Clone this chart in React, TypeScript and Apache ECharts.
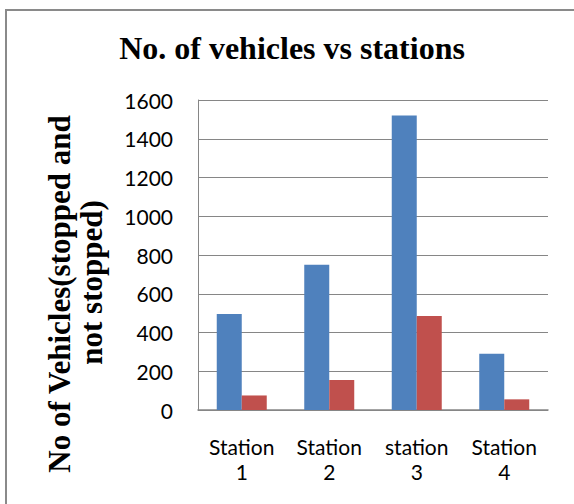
import React, { useEffect, useRef } from "react";
import * as echarts from "echarts";

const categories = ["Station\n1", "Station\n2", "station\n3", "Station\n4"];
const series1Values = [495, 750, 1520, 290];
const series2Values = [75, 155, 485, 55];
const yTicks = { min: 0, max: 1600, interval: 200 };
const titleText = "No. of vehicles vs stations";
const yTitleLine1 = "No of Vehicles(stopped and";
const yTitleLine2 = "not stopped)";

export default function App() {
  const ref = useRef<HTMLDivElement>(null);
  useEffect(() => {
    document.body.style.margin = "0";
    if (!ref.current) return;
    const chart = echarts.init(ref.current, null, { renderer: "svg" });
    const gray = "#868686";
    chart.setOption({
      animation: false,
      backgroundColor: "#ffffff",
      grid: { left: 198, right: 26, top: 100, bottom: 94, containLabel: false },
      xAxis: {
        type: "category",
        data: categories,
        axisLine: { show: true, lineStyle: { color: gray, width: 1.5 } },
        axisTick: { show: false },
        axisLabel: {
          margin: 24,
          fontFamily: "Lato",
          fontSize: 21,
          lineHeight: 25,
          color: "#000",
          interval: 0,
        },
      },
      yAxis: {
        type: "value",
        min: yTicks.min,
        max: yTicks.max,
        interval: yTicks.interval,
        axisLine: { show: true, lineStyle: { color: gray, width: 1 } },
        axisTick: { show: false },
        splitLine: { show: true, lineStyle: { color: gray, width: 1 } },
        axisLabel: {
          margin: 25,
          fontFamily: "Lato",
          fontSize: 21,
          color: "#000",
          formatter: (v: number) => String(v),
        },
      },
      series: [
        {
          name: "Series1",
          type: "bar",
          data: series1Values,
          barWidth: 25,
          barGap: "0%",
          itemStyle: { color: "#4F81BD" },
        },
        {
          name: "Series2",
          type: "bar",
          data: series2Values,
          barWidth: 25,
          barGap: "0%",
          itemStyle: { color: "#C0504D" },
        },
      ],
      graphic: [
        {
          type: "rect",
          shape: { x: 6, y: 10, width: 700, height: 700 },
          style: { fill: "none", stroke: "#8a8a8a", lineWidth: 2 },
          silent: true,
        },
        {
          type: "text",
          x: 292,
          y: 48,
          style: {
            text: titleText,
            fontFamily: "Liberation Serif",
            fontWeight: "bold",
            fontSize: 32,
            fill: "#000",
            align: "center",
            verticalAlign: "middle",
          },
        },
        {
          type: "text",
          x: 59.5,
          y: 294,
          rotation: Math.PI / 2,
          style: {
            text: yTitleLine1,
            fontFamily: "Liberation Serif",
            fontWeight: "bold",
            fontSize: 31,
            fill: "#000",
            align: "center",
            verticalAlign: "middle",
          },
        },
        {
          type: "text",
          x: 91.5,
          y: 282.5,
          rotation: Math.PI / 2,
          style: {
            text: yTitleLine2,
            fontFamily: "Liberation Serif",
            fontWeight: "bold",
            fontSize: 31,
            fill: "#000",
            align: "center",
            verticalAlign: "middle",
          },
        },
      ],
    });
    return () => chart.dispose();
  }, []);
  return <div ref={ref} style={{ width: 574, height: 504 }} />;
}
